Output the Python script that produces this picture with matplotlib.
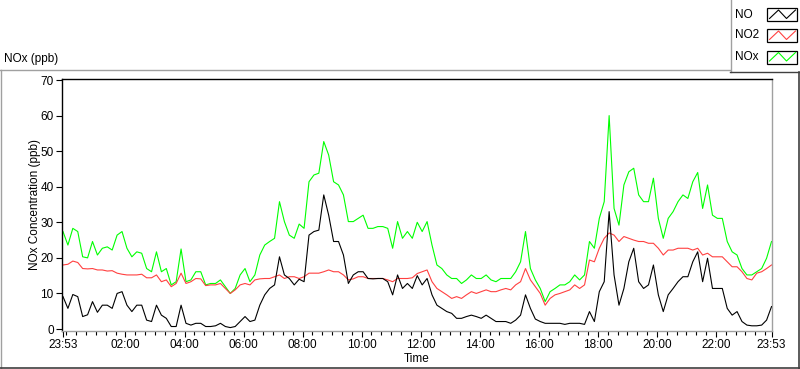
import numpy as np
import matplotlib
matplotlib.use("Agg")
import matplotlib.pyplot as plt
from matplotlib.patches import Rectangle

plt.rcParams['font.family'] = ['Liberation Sans', 'DejaVu Sans']
plt.rcParams['font.size'] = 8

# minutes after 23:53, sampled every 10 min over the day
minutes = np.arange(0, 1441, 10)

no = [9.1, 5.8, 9.7, 9.1, 3.5, 4.0, 7.7, 4.7, 6.7, 6.7, 5.8, 10.0, 10.5, 6.7, 4.9, 6.7, 6.7, 2.5, 2.1, 6.7,
      3.9, 3.0, 0.7, 0.7, 6.7, 1.6, 1.1, 1.6, 1.6, 0.7, 0.7, 0.9, 1.6, 0.7, 0.4, 0.7, 2.1, 3.5, 2.1, 2.5,
      6.7, 9.6, 11.4, 12.4, 20.3, 15.2, 14.2, 12.4, 14.0, 13.3, 26.4, 27.4, 27.8, 37.7, 32.0, 24.6, 24.6, 20.8, 12.8, 15.2,
      16.1, 16.1, 14.2, 14.1, 14.2, 14.2, 13.3, 9.6, 15.2, 11.4, 12.8, 11.4, 15.0, 12.4, 14.2, 9.6, 6.7, 5.8, 4.9, 4.4,
      3.0, 3.0, 3.5, 3.9, 3.5, 3.0, 3.9, 3.0, 2.1, 2.1, 2.1, 1.6, 2.5, 3.9, 9.6, 5.8, 2.8, 2.1, 1.6, 1.6,
      1.6, 1.6, 1.3, 1.6, 1.6, 1.6, 1.3, 4.9, 2.1, 10.5, 13.3, 33.0, 15.2, 6.7, 11.4, 18.9, 22.7, 13.3, 11.4, 12.4,
      18.0, 9.6, 4.9, 9.6, 11.4, 13.3, 14.7, 14.7, 18.9, 21.7, 13.3, 19.9, 11.4, 11.4, 11.4, 5.8, 3.9, 4.9, 2.1, 1.1,
      0.9, 0.9, 1.1, 2.5, 6.3]

no2 = [18.0, 18.2, 19.1, 18.7, 17.0, 16.9, 17.0, 16.6, 16.6, 16.3, 16.4, 15.7, 15.4, 15.2, 15.2, 15.2, 15.4, 14.4, 14.4, 15.2,
       13.3, 13.8, 11.9, 12.8, 15.7, 12.8, 13.3, 14.2, 14.1, 12.2, 12.4, 12.4, 12.8, 11.4, 10.0, 11.0, 12.4, 12.8, 12.4, 13.8,
       14.1, 14.2, 14.2, 14.7, 15.2, 14.2, 14.7, 14.7, 14.2, 14.7, 15.7, 15.7, 15.7, 16.1, 16.6, 16.1, 16.1, 15.2, 13.8, 14.1,
       14.7, 14.7, 14.2, 14.2, 14.2, 14.2, 13.8, 13.3, 14.2, 14.2, 14.2, 14.4, 15.6, 16.1, 16.6, 13.3, 11.4, 10.5, 9.6, 8.6,
       9.1, 8.6, 9.6, 10.5, 10.0, 10.5, 11.0, 10.5, 10.5, 11.0, 11.4, 11.0, 12.4, 13.3, 17.0, 13.8, 11.9, 10.0, 6.7, 8.6,
       9.6, 10.0, 10.5, 11.0, 12.4, 11.4, 12.4, 19.4, 18.9, 22.7, 25.5, 27.0, 26.4, 24.6, 26.0, 25.5, 25.0, 24.6, 24.6, 24.1,
       24.1, 22.7, 20.8, 22.2, 22.2, 22.7, 22.7, 22.7, 22.2, 22.7, 20.8, 21.3, 20.3, 20.3, 20.3, 18.9, 17.5, 17.5, 16.1, 14.2,
       13.8, 15.7, 16.1, 17.0, 18.0]

nox = [27.4, 23.6, 28.3, 27.4, 20.3, 20.0, 24.6, 20.8, 22.7, 23.1, 22.2, 26.4, 27.4, 22.7, 20.3, 21.7, 21.3, 17.0, 16.1, 21.7,
       16.1, 17.0, 12.4, 13.3, 22.5, 13.3, 13.8, 16.1, 16.1, 12.4, 12.8, 12.8, 13.8, 11.9, 10.0, 11.4, 15.2, 17.0, 13.3, 15.2,
       20.8, 23.6, 24.6, 25.5, 35.8, 30.2, 26.4, 25.5, 29.5, 28.3, 41.4, 43.3, 43.8, 52.7, 48.9, 41.4, 40.5, 37.7, 30.2, 30.2,
       31.1, 32.0, 28.3, 28.3, 28.8, 28.8, 28.3, 22.7, 30.2, 25.5, 27.4, 25.5, 30.0, 27.4, 30.2, 23.6, 18.0, 17.0, 15.2, 14.2,
       14.2, 12.8, 13.8, 15.2, 14.2, 14.2, 15.2, 13.8, 13.3, 14.2, 14.2, 14.2, 16.1, 18.9, 27.4, 17.0, 13.8, 11.4, 7.7, 10.5,
       11.4, 12.4, 12.4, 13.3, 15.2, 13.8, 15.2, 24.6, 22.7, 31.1, 35.8, 60.0, 33.9, 29.2, 40.5, 44.2, 45.2, 37.7, 35.8, 35.8,
       42.4, 31.1, 25.5, 31.1, 33.0, 35.8, 37.7, 36.7, 41.4, 44.0, 33.9, 40.5, 32.0, 31.1, 31.1, 24.6, 21.7, 20.8, 17.0, 15.2,
       15.2, 16.1, 17.0, 19.9, 24.6]

major_ticks = [0, 127, 247, 367, 487, 607, 727, 847, 967, 1087, 1207, 1327, 1440]
major_labels = ["23:53", "02:00", "04:00", "06:00", "08:00", "10:00", "12:00",
                "14:00", "16:00", "18:00", "20:00", "22:00", "23:53"]

W, H = 800, 369
fig = plt.figure(figsize=(W / 100, H / 100), dpi=100)

# background layer in pixel coordinates for the panel frame and legend
bg = fig.add_axes([0, 0, 1, 1])
bg.set_xlim(0, W)
bg.set_ylim(H, 0)
bg.axis('off')
bg.plot([0, 730], [69.5, 69.5], color="#a0a0a0", lw=1)
bg.plot([0.5, 0.5], [69.5, H], color="#a0a0a0", lw=1)
bg.plot([0, W], [367.5, 367.5], color="#404040", lw=1.2)
bg.plot([798.5, 798.5], [72, H], color="#404040", lw=1.2)
bg.plot([730.5, 730.5], [0, 72], color="#a0a0a0", lw=1)
bg.plot([730, W], [71.5, 71.5], color="#404040", lw=1)

legend_labels = ["NO", "NO2", "NOx"]
legend_colors = ["black", "#ff4040", "#00ff00"]
rows = [14.5, 35.5, 57]
for lab, col, yc in zip(legend_labels, legend_colors, rows):
    bg.text(735, yc, lab, va='center', ha='left', fontsize=8.5)
    bg.add_patch(Rectangle((767, yc - 6.5), 30, 13, fill=False, ec="black", lw=0.9))
    bg.plot([769.5, 778.5, 786.5, 795.5], [yc + 4, yc - 4.5, yc + 4, yc - 4.5], color=col, lw=0.8)

fig.text(4 / W, 1 - 59 / H, "NOx (ppb)", va='center', ha='left', fontsize=8.5)

ax = fig.add_axes([62 / W, 1 - 331 / H, 710 / W, (331 - 78.7) / H])
ax.plot(minutes, nox, color="#00ff00", lw=0.8, zorder=1)
ax.plot(minutes, no2, color="#ff4040", lw=0.8, zorder=2)
ax.plot(minutes, no, color="black", lw=0.8, zorder=3)

ax.set_xlim(-2, 1441)
ax.set_ylim(-0.56, 70.37)
ax.set_yticks(np.arange(0, 71, 10))
ax.set_xticks(major_ticks)
ax.set_xticklabels(major_labels)
minor = [m for m in range(7, 1440, 20) if m not in major_ticks]
ax.set_xticks(minor, minor=True)
ax.tick_params(axis='both', which='major', direction='out', length=4, width=0.8, pad=2, labelsize=8.5)
ax.tick_params(axis='x', which='minor', direction='out', length=3, width=0.8)

ax.spines['left'].set_color('black')
ax.spines['top'].set_color('black')
ax.spines['right'].set_color('#a0a0a0')
ax.spines['bottom'].set_color('#a0a0a0')
for s in ax.spines.values():
    s.set_linewidth(1)

ax.set_xlabel("Time", fontsize=8.5, labelpad=1)
ax.set_ylabel("NOx Concentration (ppb)", fontsize=8.5)
ax.yaxis.set_label_coords(-0.03, 0.5)

fig.savefig("out.png", dpi=100)
